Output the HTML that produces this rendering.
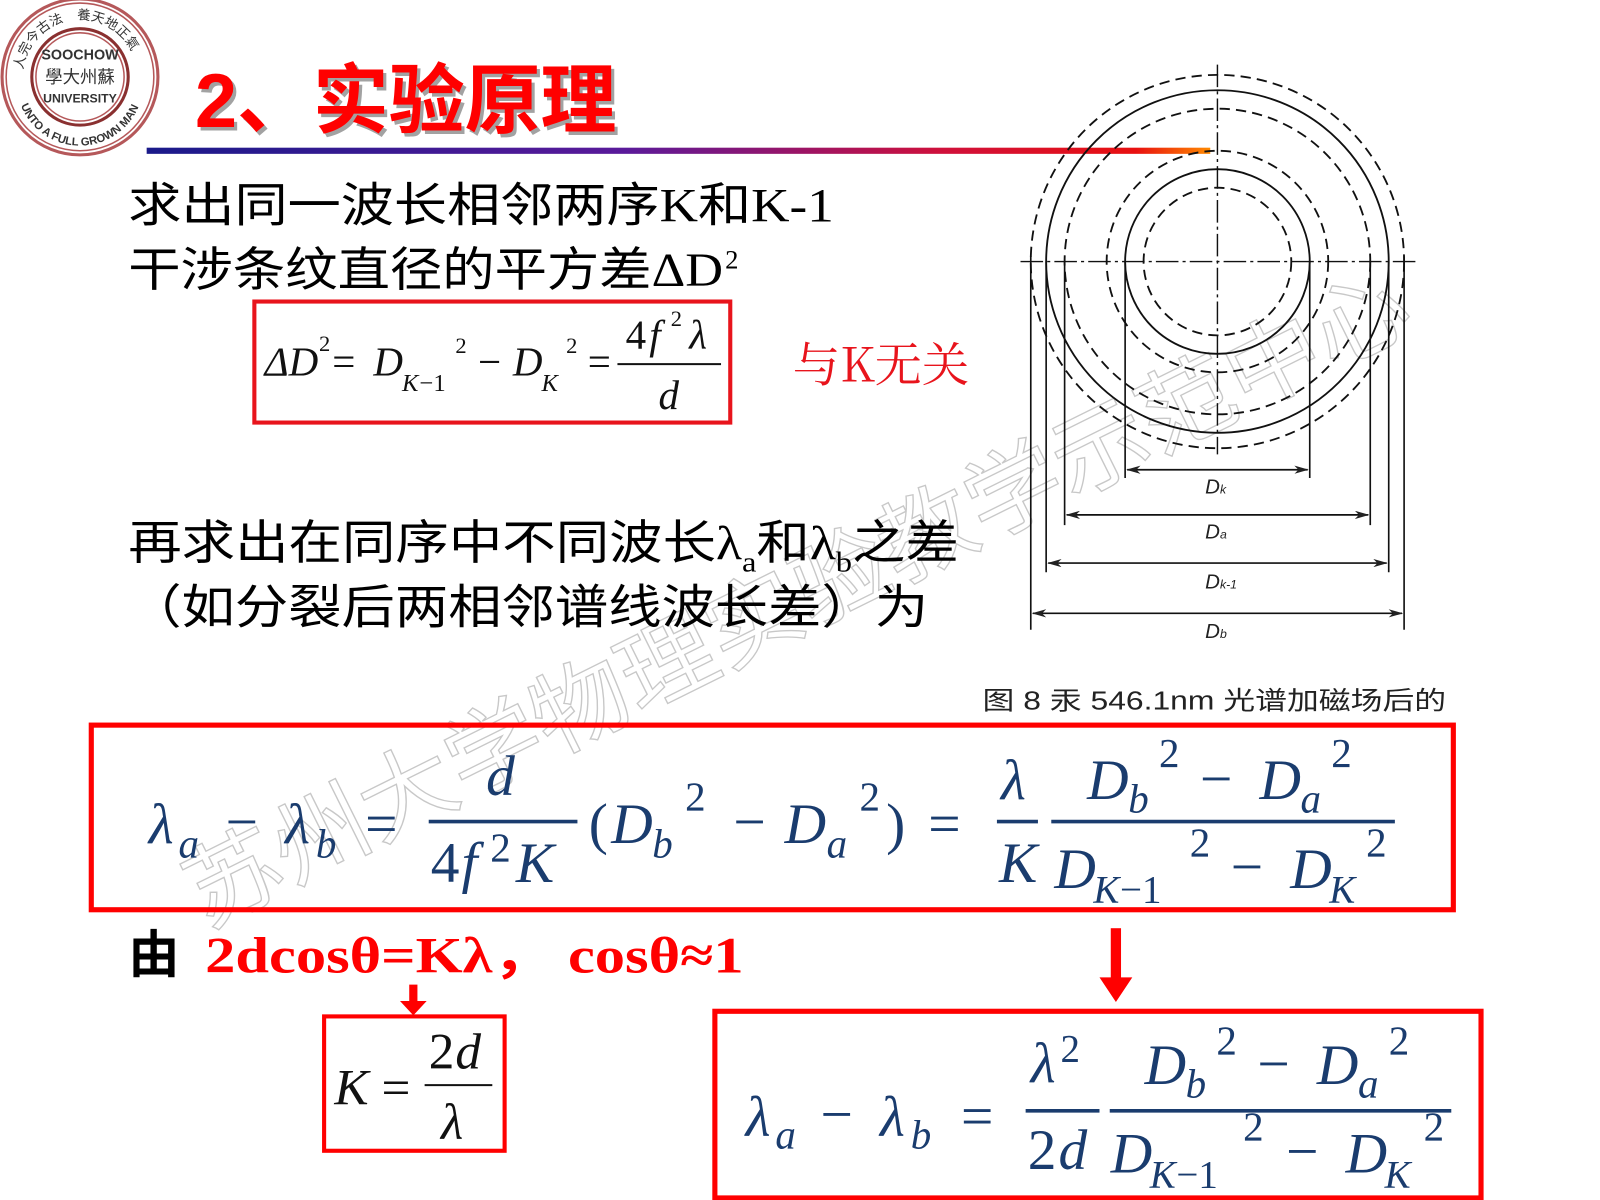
<!DOCTYPE html>
<html><head><meta charset="utf-8"><style>
html,body{margin:0;padding:0;background:#fff;width:1600px;height:1200px;overflow:hidden}
svg{display:block}
.cn{font-family:"Liberation Serif","Noto Sans CJK SC",sans-serif;fill:#000}
.m{font-family:"Liberation Serif",serif;font-style:italic;fill:#1a3c6e}
.t{font-family:"Liberation Serif",serif;font-style:italic;fill:#111}
</style></head><body>
<svg width="1600" height="1200" viewBox="0 0 1560 1170" xmlns="http://www.w3.org/2000/svg">
<defs>
<linearGradient id="g" x1="0" x2="1" y1="0" y2="0">
<stop offset="0" stop-color="#1a1a8a"/><stop offset="0.45" stop-color="#5a1a9a"/><stop offset="0.75" stop-color="#d0103a"/><stop offset="0.93" stop-color="#e81010"/><stop offset="1" stop-color="#ff8a00"/>
</linearGradient>
<marker id="ah" markerWidth="14" markerHeight="8" refX="13" refY="4" orient="auto-start-reverse" markerUnits="userSpaceOnUse"><path d="M0,0 L14,4 L0,8 L4,4 Z" fill="#222"/></marker>
<path id="arcTop" d="M22,75 A56,56 0 0 1 134,75"/>
<path id="arcBot" d="M16,80 A62,62 0 0 0 140,80"/>
</defs>

<!-- watermark -->
<text x="0" y="0" transform="translate(200,905) rotate(-26.4)" font-family="Noto Sans CJK SC,sans-serif" font-size="90" fill="none" stroke="#c8c8c8" stroke-width="1.3" textLength="1320" lengthAdjust="spacingAndGlyphs">苏州大学物理实验教学示范中心</text>

<!-- logo -->
<g>
<circle cx="78" cy="75" r="76" fill="#fff" stroke="#b5585a" stroke-width="3"/>
<circle cx="78" cy="75" r="72" fill="none" stroke="#b5585a" stroke-width="1.5"/>
<circle cx="78" cy="75" r="47" fill="none" stroke="#8a3030" stroke-width="3"/>
<circle cx="78" cy="75" r="43" fill="none" stroke="#b5585a" stroke-width="1.5"/>
<text x="78" y="58" text-anchor="middle" font-family="Liberation Sans" font-weight="bold" font-size="14" fill="#333">SOOCHOW</text>
<text x="78" y="81" text-anchor="middle" font-family="Noto Sans CJK SC" font-size="17" fill="#333">學大州蘇</text>
<text x="78" y="100" text-anchor="middle" font-family="Liberation Sans" font-weight="bold" font-size="12" fill="#333">UNIVERSITY</text>
<text font-family="Noto Sans CJK SC" font-size="13" fill="#333"><textPath href="#arcTop" startOffset="4%">人完今古法　養天地正氣</textPath></text>
<text font-family="Liberation Sans" font-weight="bold" font-size="11" fill="#333"><textPath href="#arcBot" startOffset="12%">UNTO A FULL GROWN MAN</textPath></text>
</g>

<!-- title -->
<text x="193" y="127" font-family="Liberation Sans,Noto Sans CJK SC,sans-serif" font-weight="bold" font-size="74" fill="#666" opacity="0.6">2、实验原理</text>
<text x="190" y="124" font-family="Liberation Sans,Noto Sans CJK SC,sans-serif" font-weight="bold" font-size="74" fill="#ff0000">2、实验原理</text>
<rect x="143" y="144" width="1037" height="6" fill="url(#g)"/>

<!-- text blocks -->
<text class="cn" x="125" y="216" font-size="46" textLength="688" lengthAdjust="spacingAndGlyphs">求出同一波长相邻两序K和K-1</text>
<text class="cn" x="125" y="279" font-size="46" textLength="580" lengthAdjust="spacingAndGlyphs">干涉条纹直径的平方差ΔD</text>
<text class="cn" x="707" y="262" font-size="26">2</text>

<rect x="248" y="294" width="464" height="118" fill="none" stroke="#e8141c" stroke-width="4"/>
<g class="t" font-size="40">
<text x="258" y="366">ΔD</text><text x="311" y="342" font-size="22" font-style="normal">2</text>
<text x="324" y="366" font-style="normal">=</text>
<text x="364" y="366">D</text><text x="392" y="381" font-size="24">K</text><text x="409" y="381" font-size="24" font-style="normal">−1</text>
<text x="444" y="344" font-size="22" font-style="normal">2</text>
<text x="466" y="366" font-style="normal">−</text>
<text x="500" y="366">D</text><text x="528" y="381" font-size="24">K</text>
<text x="552" y="344" font-size="22" font-style="normal">2</text>
<text x="573" y="366" font-style="normal">=</text>
<line x1="602" y1="355" x2="703" y2="355" stroke="#111" stroke-width="2"/>
<text x="610" y="340" font-style="normal">4</text><text x="633" y="340">f</text><text x="654" y="318" font-size="22" font-style="normal">2</text><text x="672" y="340">λ</text>
<text x="642" y="399">d</text>
</g>
<text x="773" y="372" font-family="Noto Serif CJK SC,serif" font-size="46" fill="#e8141c" textLength="172" lengthAdjust="spacingAndGlyphs">与K无关</text>

<text class="cn" x="125" y="545" font-size="46" textLength="810" lengthAdjust="spacingAndGlyphs">再求出在同序中不同波长λ<tspan font-size="28" dy="12">a</tspan><tspan dy="-12">和λ</tspan><tspan font-size="28" dy="12">b</tspan><tspan dy="-12">之差</tspan></text>
<text class="cn" x="125" y="608" font-size="46" textLength="780" lengthAdjust="spacingAndGlyphs">（如分裂后两相邻谱线波长差）为</text>

<!-- diagram -->
<g fill="none" stroke="#111" stroke-width="1.8">
<circle cx="1187" cy="255" r="182" stroke-dasharray="10,6"/>
<circle cx="1187" cy="255" r="167"/>
<circle cx="1187" cy="255" r="149" stroke-dasharray="10,6"/>
<circle cx="1187" cy="255" r="108" stroke-dasharray="10,6"/>
<circle cx="1187" cy="255" r="90"/>
<circle cx="1187" cy="255" r="72" stroke-dasharray="10,6"/>
<line x1="995" y1="255" x2="1382" y2="255" stroke-dasharray="22,4,3,4" stroke-width="1.4"/>
<line x1="1187" y1="63" x2="1187" y2="443" stroke-dasharray="22,4,3,4" stroke-width="1.4"/>
<g stroke-width="1.6">
<line x1="1097" y1="255" x2="1097" y2="466"/><line x1="1277" y1="255" x2="1277" y2="466"/>
<line x1="1038" y1="255" x2="1038" y2="512"/><line x1="1336" y1="255" x2="1336" y2="512"/>
<line x1="1020" y1="255" x2="1020" y2="558"/><line x1="1354" y1="255" x2="1354" y2="558"/>
<line x1="1005" y1="250" x2="1005" y2="614"/><line x1="1369" y1="250" x2="1369" y2="614"/>
<line x1="1099" y1="458" x2="1275" y2="458" marker-start="url(#ah)" marker-end="url(#ah)"/>
<line x1="1040" y1="502" x2="1334" y2="502" marker-start="url(#ah)" marker-end="url(#ah)"/>
<line x1="1022" y1="549" x2="1352" y2="549" marker-start="url(#ah)" marker-end="url(#ah)"/>
<line x1="1007" y1="598" x2="1367" y2="598" marker-start="url(#ah)" marker-end="url(#ah)"/>
</g>
</g>
<g font-family="Liberation Sans,sans-serif" font-style="italic" font-size="20" fill="#222">
<text x="1175" y="481">D<tspan font-size="12">k</tspan></text>
<text x="1175" y="525">D<tspan font-size="12">a</tspan></text>
<text x="1175" y="574">D<tspan font-size="12">k-1</tspan></text>
<text x="1175" y="622">D<tspan font-size="12">b</tspan></text>
</g>
<text x="958" y="692" font-family="Liberation Sans,Noto Sans CJK SC,sans-serif" font-size="25" fill="#222" textLength="452" lengthAdjust="spacingAndGlyphs">图 8  汞 546.1nm 光谱加磁场后的</text>

<!-- main box -->
<rect x="89" y="707" width="1328" height="180" fill="none" stroke="#f00" stroke-width="5"/>
<g class="m" font-size="56">
<text x="145" y="822">λ</text><text x="174" y="836" font-size="40">a</text>
<text x="220" y="820" font-style="normal">−</text>
<text x="278" y="822">λ</text><text x="308" y="836" font-size="40">b</text>
<text x="356" y="822" font-style="normal">=</text>
<line x1="418" y1="801" x2="563" y2="801" stroke="#1a3c6e" stroke-width="3.5"/>
<text x="474" y="775">d</text>
<text x="420" y="860" font-style="normal">4</text><text x="450" y="860">f</text><text x="478" y="840" font-size="40" font-style="normal">2</text><text x="503" y="860">K</text>
<text x="574" y="822" font-style="normal">(</text>
<text x="596" y="822">D</text><text x="636" y="836" font-size="40">b</text><text x="668" y="790" font-size="40" font-style="normal">2</text>
<text x="715" y="820" font-style="normal">−</text>
<text x="765" y="822">D</text><text x="806" y="836" font-size="40">a</text><text x="838" y="790" font-size="40" font-style="normal">2</text>
<text x="864" y="822" font-style="normal">)</text>
<text x="905" y="822" font-style="normal">=</text>
<line x1="972" y1="801" x2="1012" y2="801" stroke="#1a3c6e" stroke-width="3.5"/>
<line x1="1025" y1="801" x2="1360" y2="801" stroke="#1a3c6e" stroke-width="3.5"/>
<text x="976" y="779">λ</text>
<text x="974" y="860">K</text>
<text x="1060" y="779">D</text><text x="1100" y="792" font-size="40">b</text><text x="1130" y="748" font-size="40" font-style="normal">2</text>
<text x="1170" y="778" font-style="normal">−</text>
<text x="1228" y="779">D</text><text x="1268" y="792" font-size="40">a</text><text x="1298" y="748" font-size="40" font-style="normal">2</text>
<text x="1028" y="866">D</text><text x="1066" y="880" font-size="38">K</text><text x="1092" y="880" font-size="38" font-style="normal">−1</text><text x="1160" y="835" font-size="40" font-style="normal">2</text>
<text x="1200" y="864" font-style="normal">−</text>
<text x="1258" y="866">D</text><text x="1296" y="880" font-size="38">K</text><text x="1332" y="835" font-size="40" font-style="normal">2</text>
</g>

<text x="125" y="948" font-family="Noto Sans CJK SC,sans-serif" font-weight="bold" font-size="50" fill="#000">由</text>
<text x="200" y="948" font-family="Liberation Serif,Noto Sans CJK SC,serif" font-weight="bold" font-size="50" fill="#f00" textLength="525" lengthAdjust="spacingAndGlyphs">2dcosθ=Kλ，  cosθ≈1</text>

<!-- arrows -->
<rect x="399" y="960" width="8" height="18" fill="#f00"/>
<path d="M390,976 L416,976 L403,990 Z" fill="#f00"/>
<rect x="1083" y="905" width="10" height="50" fill="#f00"/>
<path d="M1072,953 L1104,953 L1088,977 Z" fill="#f00"/>

<!-- K box -->
<rect x="316" y="991" width="176" height="131" fill="none" stroke="#f00" stroke-width="4"/>
<g class="t" font-size="50">
<text x="326" y="1077">K</text>
<text x="372" y="1077" font-style="normal">=</text>
<line x1="414" y1="1058" x2="480" y2="1058" stroke="#111" stroke-width="2"/>
<text x="418" y="1042" font-style="normal">2</text><text x="444" y="1042">d</text>
<text x="430" y="1110">λ</text>
</g>

<!-- bottom box -->
<rect x="697" y="986" width="747" height="182" fill="none" stroke="#f00" stroke-width="5"/>
<g class="m" font-size="56">
<text x="727" y="1107">λ</text><text x="756" y="1120" font-size="40">a</text>
<text x="800" y="1105" font-style="normal">−</text>
<text x="858" y="1107">λ</text><text x="888" y="1120" font-size="40">b</text>
<text x="937" y="1107" font-style="normal">=</text>
<line x1="1000" y1="1083" x2="1072" y2="1083" stroke="#1a3c6e" stroke-width="3.5"/>
<line x1="1082" y1="1083" x2="1415" y2="1083" stroke="#1a3c6e" stroke-width="3.5"/>
<text x="1005" y="1055">λ</text><text x="1034" y="1035" font-size="38" font-style="normal">2</text>
<text x="1002" y="1140" font-style="normal">2</text><text x="1032" y="1140">d</text>
<text x="1116" y="1057">D</text><text x="1156" y="1070" font-size="40">b</text><text x="1186" y="1028" font-size="40" font-style="normal">2</text>
<text x="1226" y="1056" font-style="normal">−</text>
<text x="1284" y="1057">D</text><text x="1324" y="1070" font-size="40">a</text><text x="1354" y="1028" font-size="40" font-style="normal">2</text>
<text x="1083" y="1143">D</text><text x="1121" y="1158" font-size="38">K</text><text x="1147" y="1158" font-size="38" font-style="normal">−1</text><text x="1212" y="1112" font-size="40" font-style="normal">2</text>
<text x="1254" y="1141" font-style="normal">−</text>
<text x="1312" y="1143">D</text><text x="1350" y="1158" font-size="38">K</text><text x="1388" y="1112" font-size="40" font-style="normal">2</text>
</g>
</svg>
</body></html>
